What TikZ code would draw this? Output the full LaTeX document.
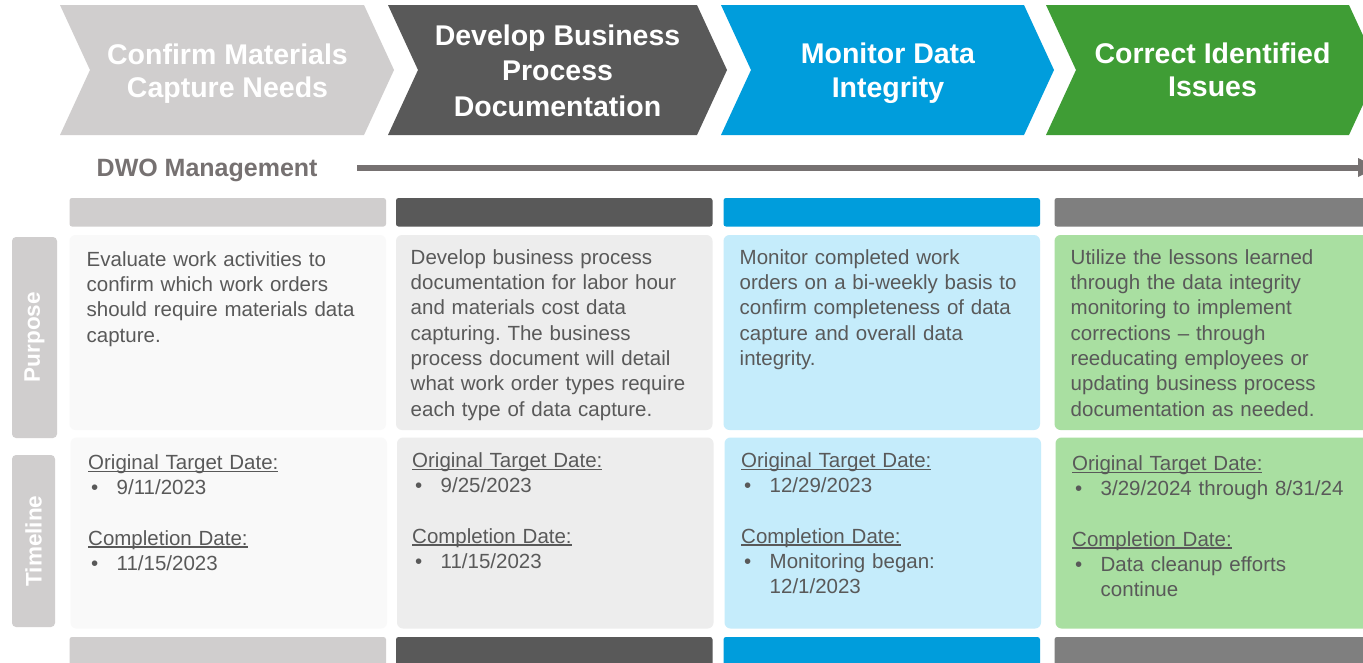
\documentclass[tikz,border=0pt]{standalone}
\usepackage{fontspec}
\setmainfont{Liberation Sans}
\usetikzlibrary{calc}
\frenchspacing

% palette
\definecolor{stepA}{HTML}{D0CECE}
\definecolor{stepB}{HTML}{595959}
\definecolor{stepC}{HTML}{009DDC}
\definecolor{stepD}{HTML}{3F9D35}
\definecolor{barD}{HTML}{7F7F7F}
\definecolor{cellA}{HTML}{F9F9F9}
\definecolor{cellB}{HTML}{EDEDED}
\definecolor{cellC}{HTML}{C5ECFB}
\definecolor{cellD}{HTML}{A9DFA1}
\definecolor{txt}{HTML}{595959}
\definecolor{dwogray}{HTML}{767171}
\definecolor{tabgray}{HTML}{D0CECE}

% underline sitting just under the baseline
\newcommand\undl[1]{\leavevmode\setbox0\hbox{#1}\rlap{\rule[-2.4pt]{\wd0}{1.1pt}}\box0}
% bullet item with hanging text
\newcommand\bul[1]{\leavevmode\makebox[28.5pt][l]{\hspace{3pt}\textbullet}#1}
\newcommand\bulcont[1]{\leavevmode\hspace*{28.5pt}#1}

\begin{document}
\begin{tikzpicture}[x=1pt,y=-1pt,
  bodytext/.style={anchor=north west, inner sep=0pt, text width=300pt, align=left,
    font=\fontsize{20.5}{25.3}\selectfont, text=txt},
  steptext/.style={anchor=north, inner sep=0pt, align=center, text=white,
    font=\bfseries\fontsize{28.5}{33.5}\selectfont},
  cell/.style={rounded corners=6pt},
  bar/.style={rounded corners=2.5pt},
  tab/.style={fill=tabgray, rounded corners=4pt},
  tabtext/.style={rotate=90, inner sep=0pt, text=white,
    font=\bfseries\fontsize{22.5}{27}\selectfont}]

\clip (0,0) rectangle (1363,662);
\fill[white] (0,0) rectangle (1363,662);

% process chevrons
\foreach \L/\R/\col in {60/364/stepA, 388/697/stepB, 721/1024/stepC, 1046/1349/stepD}
  \fill[\col] (\L,5) -- (\R,5) -- (\R+30,70) -- (\R,135) -- (\L,135) -- (\L+30,70) -- cycle;

\node[steptext] (s1) at (227.5,40.5) {\strut Confirm Materials\\Capture Needs};
\node[steptext, font=\bfseries\fontsize{28.5}{35.5}\selectfont] (s2) at (557.5,20)
  {\strut Develop Business\\Process\\Documentation};
\node[steptext] (s3) at (888,40) {\strut Monitor Data\\Integrity};
\node[steptext] (s4) at (1212.5,39.5) {\strut Correct Identified\\Issues};

% management timeline arrow
\node[anchor=base west, inner sep=0pt, text=dwogray,
  font=\bfseries\fontsize{25}{29}\selectfont] (dwo) at (96.5,176) {DWO Management};
\coordinate (arrS) at (357,167.5);
\coordinate (arrE) at (1358,167.5);
\draw[dwogray, line width=6pt] (arrS) -- (arrE);
\fill[dwogray] ($(arrE)+(0,-9.5)$) -- ($(arrE)+(19,0)$) -- ($(arrE)+(0,9.5)$) -- cycle;

% row tabs
\fill[tab] (12,237) rectangle (57,438);
\fill[tab] (12,455) rectangle (55,627);
\node[tabtext] (tp) at (34.5,337) {Purpose};
\node[tabtext] (tt) at (33.5,541) {Timeline};

% column bars and cells
\foreach \a/\b/\bc/\cc in {69.5/386/stepA/cellA, 396/712.5/stepB/cellB,
                           723.5/1040/stepC/cellC, 1054.5/1372/barD/cellD}{
  \fill[bar, \bc] (\a,198) rectangle (\b,226.5);
  \fill[cell, \cc] (\a,235) rectangle (\b,430);
  \fill[cell, \cc] (\a+1,437.5) rectangle (\b+1,628.5);
  \fill[bar, \bc] (\a,637) rectangle (\b,680);
}

% purpose texts
\node[bodytext] (p1) at (86.5,248.3) {\strut Evaluate work activities to\\
  confirm which work orders\\should require materials data\\capture.};
\node[bodytext] (p2) at (410.5,246.3) {\strut Develop business process\\
  documentation for labor hour\\and materials cost data\\capturing. The business\\
  process document will detail\\what work order types require\\each type of data capture.};
\node[bodytext] (p3) at (739.5,246.3) {\strut Monitor completed work\\
  orders on a bi-weekly basis to\\confirm completeness of data\\capture and overall data\\integrity.};
\node[bodytext] (p4) at (1070.5,246.3) {\strut Utilize the lessons learned\\
  through the data integrity\\monitoring to implement\\corrections \textendash{} through\\
  reeducating employees or\\updating business process\\documentation as needed.};

% timeline texts
\node[bodytext] (t1) at (88,451.3) {\strut\undl{Original Target Date:}\\
  \bul{9/11/2023}\\[25.3pt]
  \undl{Completion Date:}\\
  \bul{11/15/2023}};
\node[bodytext] (t2) at (412,449.3) {\strut\undl{Original Target Date:}\\
  \bul{9/25/2023}\\[25.3pt]
  \undl{Completion Date:}\\
  \bul{11/15/2023}};
\node[bodytext] (t3) at (741,449.3) {\strut\undl{Original Target Date:}\\
  \bul{12/29/2023}\\[25.3pt]
  \undl{Completion Date:}\\
  \bul{Monitoring began:}\\
  \bulcont{12/1/2023}};
\node[bodytext] (t4) at (1072,452.3) {\strut\undl{Original Target Date:}\\
  \bul{3/29/2024 through 8/31/24}\\[25.3pt]
  \undl{Completion Date:}\\
  \bul{Data cleanup efforts}\\
  \bulcont{continue}};

\end{tikzpicture}
\end{document}
